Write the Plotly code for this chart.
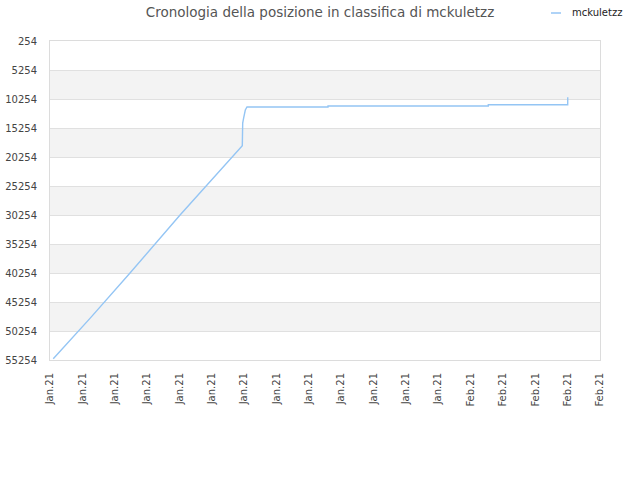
import pandas as pd
import plotly.graph_objects as go

# Classifica di mckuletzz (posizione nel tempo)
orari = [
    "2021-01-19 02:25", "2021-01-20 06:00", "2021-01-21 11:12", "2021-01-23 00:29",
    "2021-01-24 22:39", "2021-01-24 22:57", "2021-01-24 23:40", "2021-01-25 00:08",
    "2021-01-25 00:53", "2021-01-25 02:08", "2021-01-27 14:14", "2021-01-27 14:15",
    "2021-02-01 13:08", "2021-02-01 13:09", "2021-02-04 00:03", "2021-02-04 00:04",
]
posizioni = [
    55050, 47990, 40305, 30254,
    18305, 14400, 13500, 12660,
    12150, 11630, 11630, 11460,
    11460, 11240, 11240, 9960,
]

tick_y = [254, 5254, 10254, 15254, 20254, 25254, 30254, 35254, 40254, 45254, 50254, 55254]
inizio_asse = "2021-01-19"
fine_asse = "2021-02-05"
nome_serie = "mckuletzz"
colore_serie = "#94c5f4"

fig = go.Figure()

fig.add_trace(go.Scatter(
    x=pd.to_datetime(orari),
    y=posizioni,
    mode="lines",
    name=nome_serie,
    line=dict(color=colore_serie, width=1.4),
    showlegend=False,
))

# bande grigie alternate tra le linee della griglia
forme = []
for i in range(1, len(tick_y) - 1, 2):
    forme.append(dict(
        type="rect", xref="paper", yref="y", x0=0, x1=1,
        y0=tick_y[i], y1=tick_y[i + 1],
        fillcolor="#f3f3f3", line_width=0, layer="below",
    ))

# legenda in alto a destra (campione corto come nell'originale)
forme.append(dict(
    type="line", xref="paper", yref="paper",
    x0=501 / 550, x1=511 / 550, y0=1 + 28 / 319, y1=1 + 28 / 319,
    line=dict(color=colore_serie, width=1.5),
))

fig.update_layout(
    title=dict(
        text="Cronologia della posizione in classifica di mckuletzz",
        x=0.5, xref="container", xanchor="center",
        y=1 - 12 / 480, yanchor="middle",
        font=dict(size=13.5, color="#555"),
    ),
    width=640, height=480,
    margin=dict(l=50, r=40, t=41, b=120),
    paper_bgcolor="white",
    plot_bgcolor="white",
    font=dict(family="DejaVu Sans", size=10, color="#444"),
    shapes=forme,
    annotations=[dict(
        text=nome_serie, xref="paper", yref="paper",
        x=520 / 550, y=1 + 28 / 319, xanchor="left", yanchor="middle",
        showarrow=False, font=dict(size=10, color="#222"),
    )],
)

fig.update_xaxes(
    type="date",
    range=[inizio_asse, fine_asse],
    tick0=inizio_asse, dtick=86400000,
    tickformat="%b.%y", tickangle=-90,
    showgrid=False, zeroline=False,
    showline=True, mirror=True, linecolor="#dcdcdc",
    ticks="", automargin=False, ticklabelstandoff=8,
    tickfont=dict(size=10, color="#444"),
)

fig.update_yaxes(
    range=[55254, 254],
    tickvals=tick_y, ticktext=[str(v) for v in tick_y],
    showgrid=True, gridcolor="#e0e0e0", zeroline=False,
    showline=True, mirror=True, linecolor="#dcdcdc",
    ticks="", automargin=False, ticklabelstandoff=10,
    tickfont=dict(size=10, color="#444"),
)

fig.write_html(
    "out.html",
    config={"displayModeBar": False},
    post_script="document.body.style.margin='0';",
)
